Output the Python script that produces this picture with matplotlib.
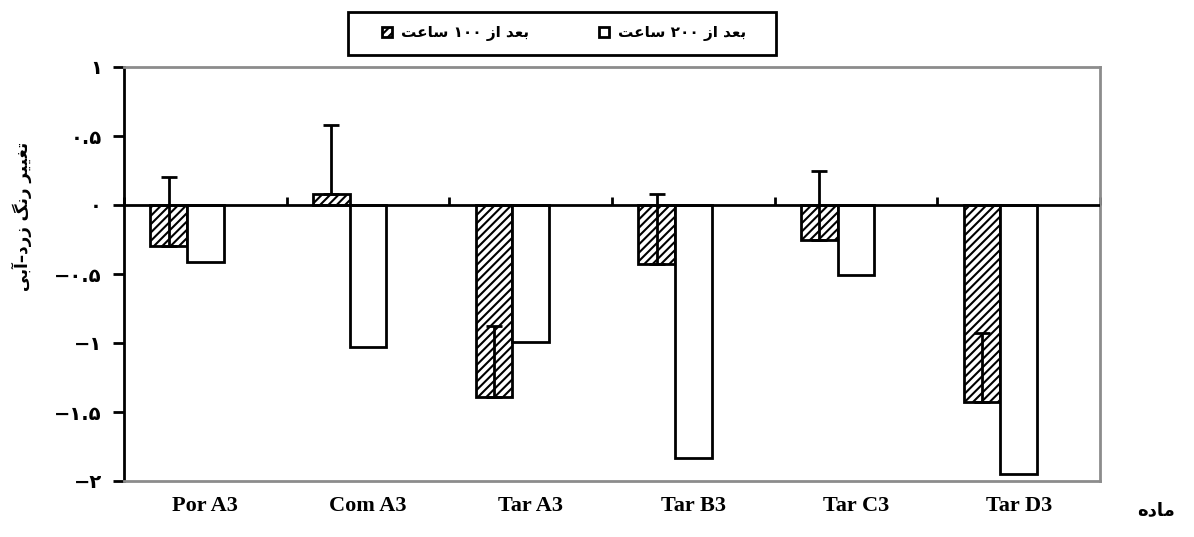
import numpy as np
import matplotlib
matplotlib.use("Agg")
import matplotlib.pyplot as plt
from matplotlib.patches import Rectangle

# data
categories = ["Por A3", "Com A3", "Tar A3", "Tar B3", "Tar C3", "Tar D3"]
after_100h = [-0.30, 0.08, -1.39, -0.43, -0.25, -1.43]
after_100h_err = [0.50, 0.50, 0.51, 0.51, 0.50, 0.50]
after_200h = [-0.41, -1.03, -0.99, -1.83, -0.51, -1.95]
yticks = [1, 0.5, 0, -0.5, -1, -1.5, -2]
ytick_labels = ["\u06f1", "\u06f0.\u06f5", "\u06f0", "\u2212\u06f0.\u06f5",
                "\u2212\u06f1", "\u2212\u06f1.\u06f5", "\u2212\u06f2"]

# Persian strings, pre-shaped (presentation forms, visual order)
lbl_100 = "\ufe96\ufecb\ufe8e\ufeb3 \u06f1\u06f0\u06f0 \ufeaf\ufe8d \ufeaa\ufecc\ufe91"
lbl_200 = "\ufe96\ufecb\ufe8e\ufeb3 \u06f2\u06f0\u06f0 \ufeaf\ufe8d \ufeaa\ufecc\ufe91"
ylab = "\ufef0\ufe91\ufe81\u2013\ufea9\ufead\ufeaf \ufb93\ufee7\ufead \ufeae\ufef4\ufef4\ufed0\ufe97"
xlab = "\ufee9\ufea9\ufe8e\ufee3"

fa = ["DejaVu Sans"]
lat = ["Liberation Serif", "DejaVu Sans"]
plt.rcParams["hatch.linewidth"] = 1.5

W, H = 1194, 537
fig = plt.figure(figsize=(W / 100, H / 100), dpi=100)
ax = fig.add_axes([124 / W, 1 - 481 / H, 976 / W, 414 / H])

x = np.arange(len(categories))
w = 0.226
ax.bar(x - w, after_100h, w, align="center", facecolor="white", edgecolor="black",
       linewidth=2, hatch="////", label=lbl_100, zorder=2)
ax.bar(x, after_200h, w, align="center", facecolor="white", edgecolor="black",
       linewidth=2, label=lbl_200, zorder=2)
ax.errorbar(x - w, after_100h, yerr=[np.zeros(len(x)), after_100h_err], fmt="none",
            ecolor="black", elinewidth=2, capsize=5.5, capthick=2, zorder=3)

ax.set_xlim(-0.5, len(categories) - 0.5)
ax.set_ylim(-2, 1)
ax.axhline(0, color="black", lw=2, zorder=4)

for s in ["top", "right", "bottom"]:
    ax.spines[s].set_color("#8c8c8c")
    ax.spines[s].set_linewidth(2)
ax.spines["left"].set_color("black")
ax.spines["left"].set_linewidth(2)

ax.set_yticks(yticks)
ax.set_yticklabels(ytick_labels, family=fa, fontweight="bold", fontsize=14)
ax.tick_params(axis="y", direction="out", length=8, width=2, pad=8)

ax.set_xticks(x)
ax.set_xticklabels(categories, family=lat, fontweight="bold", fontsize=16)
ax.tick_params(axis="x", length=0, pad=11)

# tick marks on the zero line between categories
zero_pos = (0 - ax.get_ylim()[0]) / (ax.get_ylim()[1] - ax.get_ylim()[0])
sec = ax.secondary_xaxis(zero_pos)
sec.set_xticks(np.arange(-0.5, len(categories) + 0.5, 1.0))
sec.set_xticklabels([])
sec.tick_params(direction="out", length=6, width=2)
sec.spines["bottom"].set_visible(False)

ax.set_ylabel(ylab, family=fa, fontweight="bold", fontsize=12)
ax.yaxis.set_label_coords(-0.094, 0.64)
fig.text(0.968, 0.05, xlab, family=fa, fontweight="bold", fontsize=13,
         ha="center", va="center")

leg = fig.legend(loc="center", bbox_to_anchor=(564 / W, 1 - 33 / H), ncol=2,
                 prop={"family": fa, "weight": "bold", "size": 11},
                 frameon=False, columnspacing=4.6, handlelength=0.65,
                 handleheight=0.65, handletextpad=0.6)
fig.patches.append(Rectangle((348 / W, 1 - 55 / H), 428 / W, 43 / H,
                             transform=fig.transFigure, fill=False,
                             edgecolor="black", linewidth=2))

fig.savefig("out.png", dpi=100)
